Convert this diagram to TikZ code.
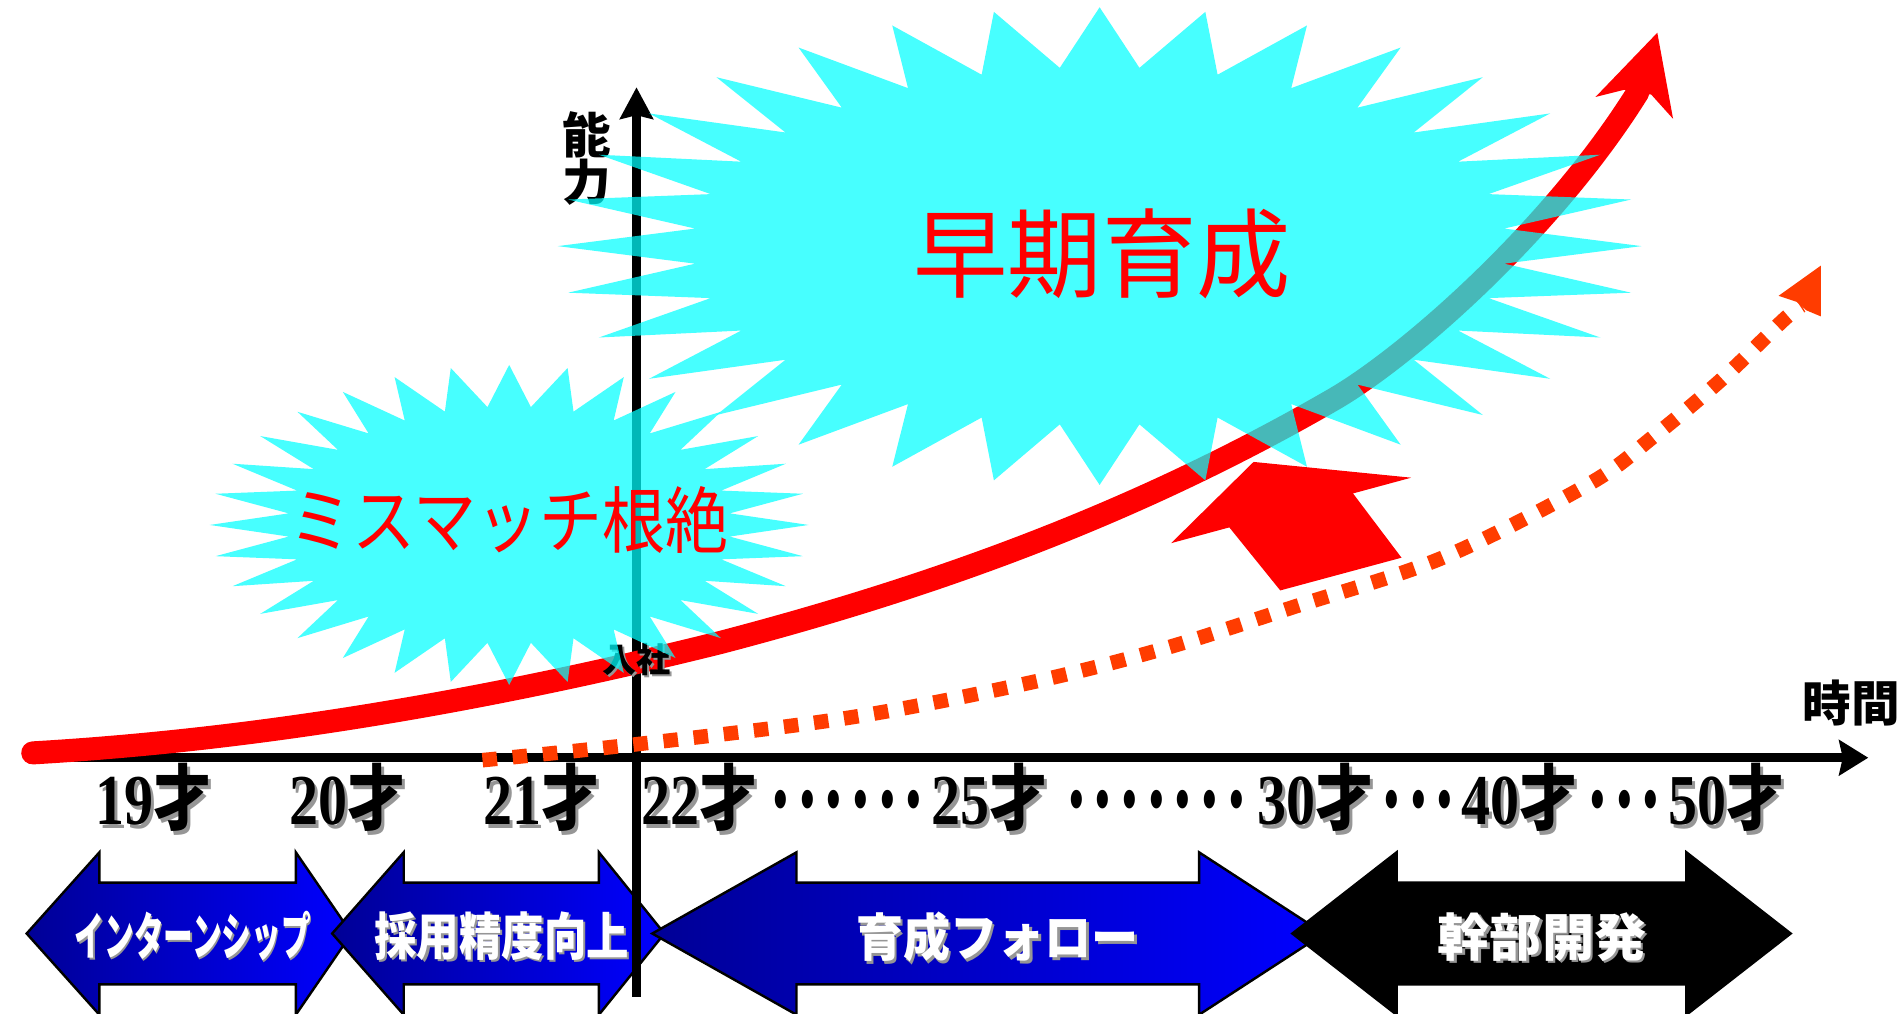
\documentclass[tikz,border=0pt]{standalone}
\usepackage{fontspec}
\usetikzlibrary{arrows.meta}
\newfontfamily\jp{Noto Sans CJK JP}
\newfontfamily\tms{Liberation Serif}
\definecolor{dotred}{RGB}{255,60,0}
\definecolor{navyL}{RGB}{0,0,150}
\definecolor{brightB}{RGB}{0,0,255}
\definecolor{starcy}{RGB}{0,255,255}
\definecolor{shadowgray}{RGB}{150,150,150}
\newcommand{\shd}[2]{\makebox[0pt][l]{\hspace{#1}\raisebox{-#1}{\textcolor{shadowgray}{#2}}}#2}
\newcommand{\agetext}[1]{\scalebox{0.81}[1]{\shd{0.03cm}{{\tms\bfseries #1}{\jp\bfseries 才}}}}
\newcommand{\agedot}{\makebox[0.22cm]{\raisebox{-0.11cm}{\scalebox{0.95}[1.6]{\textcolor{black}{\tms\bfseries ·}}}}}
\begin{document}
\begin{tikzpicture}[x=0.01cm,y=-0.01cm,
  axisline/.style={line width=0.07cm, draw=black},
  bluearrow/.style={draw=black, line width=0.02cm, left color=navyL, right color=brightB},
  blackarrow/.style={draw=black, line width=0.02cm, fill=black},
  arrowtext/.style={inner sep=0, text=white, font=\jp\bfseries\fontsize{12}{14}\selectfont},
  agelab/.style={anchor=base, inner sep=0, font=\fontsize{16.8}{18}\selectfont},
  axislabel/.style={inner sep=0, font=\jp\bfseries\fontsize{11.4}{11.1}\selectfont, align=center},
  redcurve/.style={draw=red, line width=0.19cm, line cap=round},
  dotline/.style={draw=dotred, line width=0.12cm, dash pattern=on 0.12cm off 0.13cm},
  starfill/.style={fill=starcy, fill opacity=0.72},
  startext/.style={inner sep=0, text=red, font=\jp}]
\useasboundingbox (0,0) rectangle (1568,836);
\fill[white] (0,0) rectangle (1568,836);

% bottom phase arrows
\path[bluearrow] (22,770) -- (82,703) -- (82,728) -- (244,728) -- (244,703) -- (290,770) -- (244,837) -- (244,812) -- (82,812) -- (82,837) -- cycle;
\path[bluearrow] (274,770) -- (333,703) -- (333,728) -- (494,728) -- (494,703) -- (548,770) -- (494,837) -- (494,812) -- (333,812) -- (333,837) -- cycle;
\path[bluearrow] (538,770) -- (657,703) -- (657,728) -- (989,728) -- (989,703) -- (1092,770) -- (989,837) -- (989,812) -- (657,812) -- (657,837) -- cycle;
\path[blackarrow] (1066,770) -- (1152,703) -- (1152,728) -- (1391,728) -- (1391,703) -- (1477,770) -- (1391,837) -- (1391,812) -- (1152,812) -- (1152,837) -- cycle;
\node[arrowtext] (p1) at (159,773) {\scalebox{0.58}[1]{\shd{0.02cm}{インターンシップ}}};
\node[arrowtext] (p2) at (414,773) {\scalebox{0.83}[1]{\shd{0.02cm}{採用精度向上}}};
\node[arrowtext] (p3) at (823,774) {\scalebox{0.92}[1]{\shd{0.02cm}{育成フォロー}}};
\node[arrowtext] (p4) at (1272,774) {\scalebox{1.02}[1]{\shd{0.02cm}{幹部開発}}};

% axes
\coordinate (xstart) at (25,625);
\coordinate (xend) at (1541,625);
\coordinate (ybot) at (525,822);
\coordinate (ytop) at (525,72);
\draw[axisline, -{Stealth[length=0.24cm,width=0.29cm,inset=0.03cm]}] (xstart) -- (xend);
\draw[axisline, -{Stealth[length=0.26cm,width=0.27cm,inset=0.03cm]}] (ybot) -- (ytop);
\node[axislabel] (nouryoku) at (484,131) {能\\力};
\node[axislabel] (jikan) at (1527,580) {時間};

% age labels
\node[agelab] (a19) at (127,680) {\agetext{19}};
\node[agelab] (a20) at (287,680) {\agetext{20}};
\node[agelab] (a21) at (447,680) {\agetext{21}};
\node[agelab] (a22) at (577,680) {\agetext{22}};
\node[agelab] (d1) at (699,680) {\agedot\agedot\agedot\agedot\agedot\agedot};
\node[agelab] (a25) at (816,680) {\agetext{25}};
\node[agelab] (d2) at (954,680) {\agedot\agedot\agedot\agedot\agedot\agedot\agedot};
\node[agelab] (a30) at (1085,680) {\agetext{30}};
\node[agelab] (d3) at (1170,680) {\agedot\agedot\agedot};
\node[agelab] (a40) at (1253,680) {\agetext{40}};
\node[agelab] (d4) at (1340,680) {\agedot\agedot\agedot};
\node[agelab] (a50) at (1424,680) {\agetext{50}};

% growth curves
\coordinate (dc0) at (398,627);
\coordinate (dcEnd) at (1486,252);
\draw[dotline] plot[smooth, tension=0.55] coordinates {(398,627) (524,614) (700,592) (850,563) (960,535) (1066,501) (1190,460) (1311,399) (1364,360) (1420,313) (1471,264) (1486,252)};
\fill[dotred] (1502,219) -- (1502,261) -- (1490,256) -- (1482,249) -- (1467,244) -- cycle;
\coordinate (rc0) at (27,621);
\coordinate (rc1) at (594,530);
\coordinate (rc2) at (1099,330);
\coordinate (rcEnd) at (1351,76);
\draw[redcurve] (rc0) .. controls (216,610) and (405,577) .. (rc1)
  .. controls (762,486) and (931,427) .. (rc2)
  .. controls (1160,295) and (1280,190) .. (rcEnd);
\fill[red] (1367,27) -- (1380,98) -- (1362,78) -- (1340,74) -- (1316,80) -- cycle;
\node[inner sep=0, font=\jp\bfseries\fontsize{8}{9}\selectfont] (nyusha) at (525,545) {\shd{0.015cm}{入社}};
% block arrow
\fill[red] (1034,381) -- (1164,394) -- (1116,407) -- (1156,460) -- (1056,487) -- (1014,435) -- (966,448) -- cycle;

% starbursts
\fill[starfill] plot[samples=64, domain=0:63, variable=\k] ({420+247*(1-0.26*mod(\k,2))*cos(\k*5.625)}, {433+132*(1-0.26*mod(\k,2))*sin(\k*5.625)}) -- cycle;
\fill[starfill] plot[samples=64, domain=0:63, variable=\k] ({907+447*(1-0.25*mod(\k,2))*cos(\k*5.625)}, {203+197*(1-0.25*mod(\k,2))*sin(\k*5.625)}) -- cycle;
\node[startext, font=\jp\fontsize{17}{18}\selectfont] (mismatch) at (420,429) {\scalebox{0.87}[1]{ミスマッチ根絶}};
\node[startext, font=\jp\fontsize{22.8}{24}\selectfont] (souki) at (909,209) {\scalebox{0.97}[1]{早期育成}};
\end{tikzpicture}
\end{document}
